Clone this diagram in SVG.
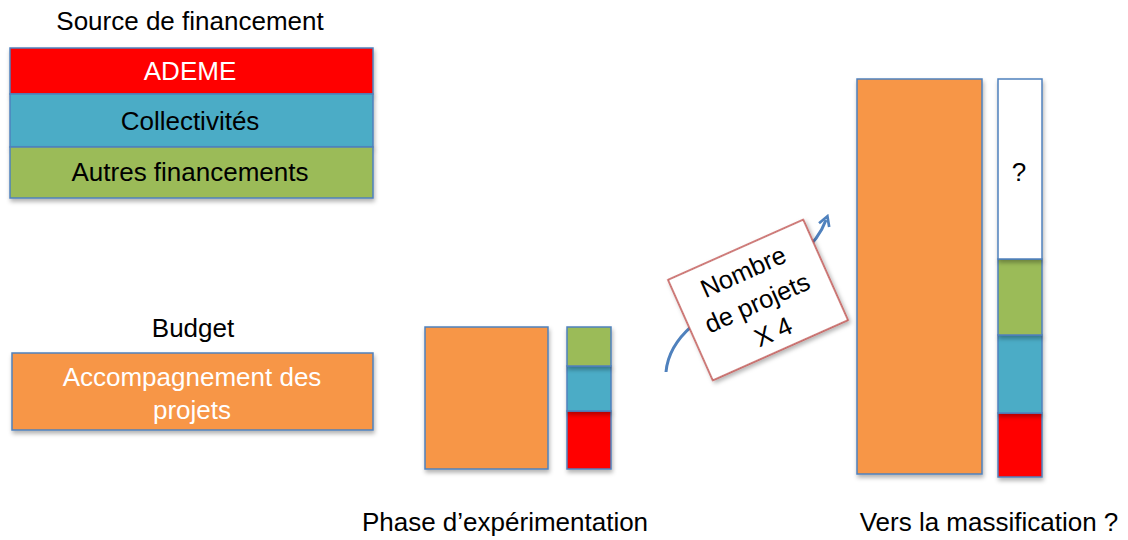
<svg xmlns="http://www.w3.org/2000/svg" width="1128" height="540" viewBox="0 0 1128 540">
<style>
text{font-family:"Liberation Sans",Arial,sans-serif;font-size:26px;text-anchor:middle;fill:#000}
.w{fill:#fff}
.lbl{font-size:25.5px}
.bar{stroke:#4F81BD;stroke-width:1.5;filter:url(#sh)}
.red{fill:#FF0000}.blue{fill:#4BACC6}.green{fill:#9BBB59}.orange{fill:#F79646}.white{fill:#fff}
</style>
<defs>
<filter id="sh" x="-10%" y="-10%" width="130%" height="130%">
<feDropShadow dx="1" dy="3" stdDeviation="2" flood-color="#000" flood-opacity="0.3"/>
</filter>
<marker id="ah" viewBox="0 0 10 10" refX="5" refY="5" markerWidth="4.5" markerHeight="4.5" orient="auto">
<path d="M1,1 L8,5 L1,9" fill="none" stroke="#4F81BD" stroke-width="2"/>
</marker>
</defs>
<rect width="1128" height="540" fill="#fff"/>

<g id="legend-sources">
<text x="190" y="30">Source de financement</text>
<rect class="bar red" x="10" y="48" width="363" height="46"/>
<rect class="bar blue" x="10" y="94" width="363" height="53"/>
<rect class="bar green" x="10" y="147" width="363" height="51"/>
<text class="w" x="190" y="80">ADEME</text>
<text x="190" y="130">Collectivités</text>
<text x="190" y="181">Autres financements</text>
</g>

<g id="legend-budget">
<text x="193" y="337">Budget</text>
<rect class="bar orange" x="12" y="353" width="361" height="77"/>
<text class="w" x="192" y="386">Accompagnement des</text>
<text class="w" x="192" y="419">projets</text>
</g>

<g id="phase-experimentation">
<rect class="bar orange" x="425" y="327" width="123" height="142"/>
<rect class="bar red" x="567" y="411" width="44" height="58"/>
<rect class="bar blue" x="567" y="366" width="44" height="45"/>
<rect class="bar green" x="567" y="327" width="44" height="39"/>
<text x="505" y="531">Phase d’expérimentation</text>
</g>

<g id="massification">
<rect class="bar orange" x="857" y="79" width="125" height="395"/>
<rect class="bar red" x="998" y="413" width="44" height="64"/>
<rect class="bar blue" x="998" y="335" width="44" height="78"/>
<rect class="bar green" x="998" y="259" width="44" height="76"/>
<rect class="bar white" x="998" y="79" width="44" height="180"/>
<text x="1019" y="181">?</text>
<text x="989" y="531">Vers la massification ?</text>
</g>

<g id="connectors">
<path d="M666,372 C672,300 800,290 826,220" fill="none" stroke="#4F81BD" stroke-width="3" marker-end="url(#ah)"/>
</g>

<g id="label-x4" transform="translate(758,300) rotate(-24)">
<rect x="-74" y="-55" width="148" height="110" fill="#fff" stroke="#C0504D" stroke-width="1.5" filter="url(#sh)"/>
<text class="lbl" x="-2" y="-23">Nombre</text>
<text class="lbl" x="-2" y="11">de projets</text>
<text class="lbl" x="1" y="44">X 4</text>
</g>
</svg>
